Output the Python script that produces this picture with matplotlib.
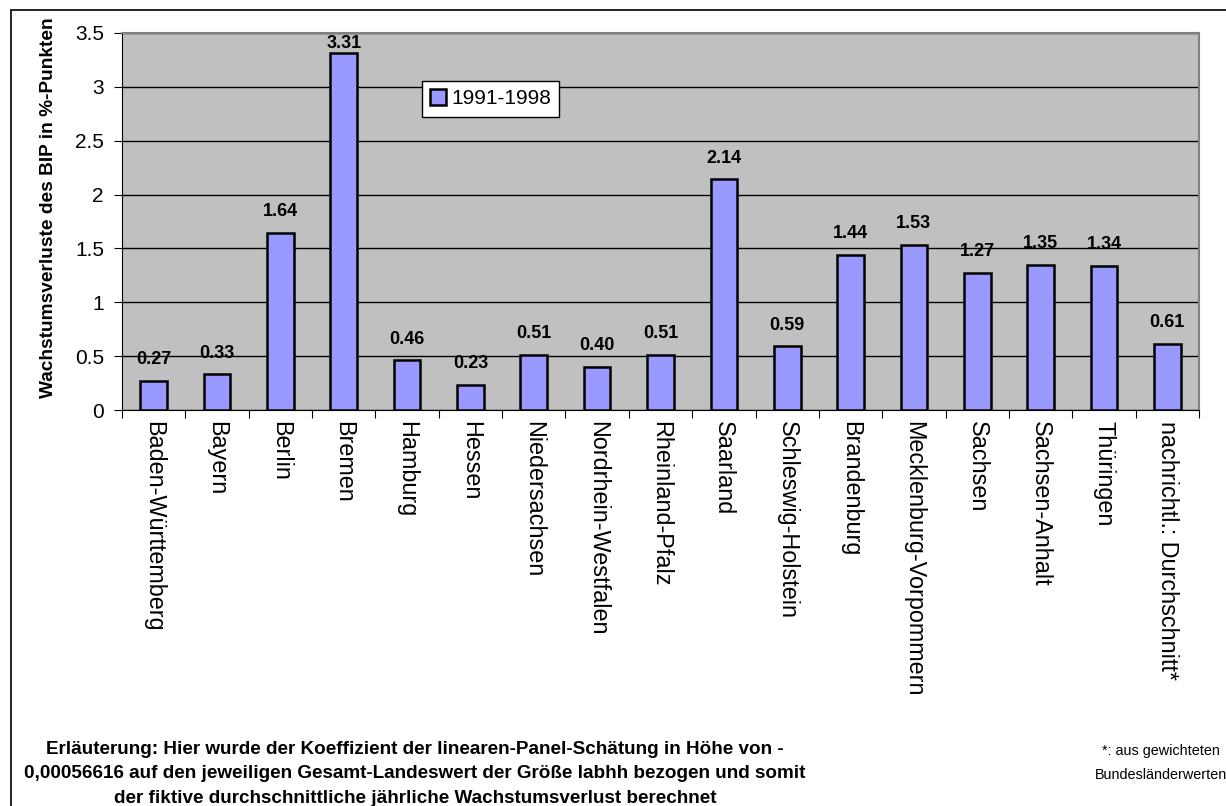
import matplotlib.pyplot as plt
import numpy as np
from matplotlib.patches import Rectangle

plt.rcParams['font.family'] = ['Liberation Sans', 'DejaVu Sans']

# Daten
laender = ['Baden-Württemberg', 'Bayern', 'Berlin', 'Bremen', 'Hamburg', 'Hessen',
           'Niedersachsen', 'Nordrhein-Westfalen', 'Rheinland-Pfalz', 'Saarland',
           'Schleswig-Holstein', 'Brandenburg', 'Mecklenburg-Vorpommern', 'Sachsen',
           'Sachsen-Anhalt', 'Thüringen', 'nachrichtl.: Durchschnitt*']
verluste = [0.27, 0.33, 1.64, 3.31, 0.46, 0.23, 0.51, 0.40, 0.51, 2.14,
            0.59, 1.44, 1.53, 1.27, 1.35, 1.34, 0.61]
serie = '1991-1998'

W, H = 1226, 806
fig = plt.figure(figsize=(W / 100, H / 100), dpi=100)
ax = fig.add_axes([122 / W, 1 - 410 / H, (1199 - 122) / W, (410 - 33) / H])

x = np.arange(len(laender))
ax.bar(x, verluste, width=0.42, color='#9999FF', edgecolor='black',
       linewidth=1.8, label=serie, zorder=3)

# Werte über den Balken (oben begrenzt, damit nichts übersteht)
for xi, v in zip(x, verluste):
    ax.text(xi, min(v + 0.12, 3.32), f'{v:.2f}', ha='center', va='bottom',
            fontsize=13, fontweight='bold', zorder=4)

ax.set_facecolor('#C0C0C0')
ax.set_xlim(-0.5, len(laender) - 0.5)
ax.set_ylim(0, 3.5)
ax.set_yticks(np.arange(0, 3.51, 0.5))
ax.set_yticklabels(['0', '0.5', '1', '1.5', '2', '2.5', '3', '3.5'], fontsize=15)
ax.yaxis.grid(True, color='black', linewidth=1, zorder=1)
ax.set_axisbelow(True)

ax.set_xticks(np.arange(-0.5, len(laender), 1))
ax.set_xticklabels([])
ax.set_xticks(x, minor=True)
ax.set_xticklabels(laender, minor=True, rotation=270, fontsize=16.8)
ax.tick_params(axis='x', which='minor', length=0, pad=8)
ax.tick_params(axis='x', which='major', length=6, direction='out')
ax.tick_params(axis='y', length=6, direction='out', pad=7)

for s in ['top', 'right']:
    ax.spines[s].set_color('#808080')
    ax.spines[s].set_linewidth(1.5)
ax.spines['left'].set_color('black')
ax.spines['bottom'].set_color('black')

ax.set_ylabel('Wachstumsverluste des BIP in %-Punkten', fontsize=13.8,
              fontweight='bold')
ax.yaxis.set_label_coords(-65 / 1077, 0.536)

leg = ax.legend(loc='upper left', bbox_to_anchor=(300 / 1077, 1 - 48 / 377),
                fontsize=15, frameon=True, fancybox=False, borderpad=0.4,
                handlelength=0.75, handleheight=0.75, handletextpad=0.25,
                borderaxespad=0)
leg.get_frame().set_edgecolor('black')
leg.get_frame().set_linewidth(1)
leg.get_frame().set_alpha(1)

fig.text(415 / W, 1 - 774 / H,
         'Erläuterung: Hier wurde der Koeffizient der linearen-Panel-Schätung in Höhe von -\n'
         '0,00056616 auf den jeweiligen Gesamt-Landeswert der Größe labhh bezogen und somit\n'
         'der fiktive durchschnittliche jährliche Wachstumsverlust berechnet',
         ha='center', va='center', fontsize=13.6, fontweight='bold', linespacing=1.55)
fig.text(1161 / W, 1 - 763 / H, '*: aus gewichteten\nBundesländerwerten',
         ha='center', va='center', fontsize=10.4, linespacing=1.9)

fig.patches.append(Rectangle((11 / W, -0.1), 1.2, 1.1 - 10 / H,
                             transform=fig.transFigure, fill=False,
                             edgecolor='black', linewidth=1.2))

fig.savefig('out.png', dpi=100)
